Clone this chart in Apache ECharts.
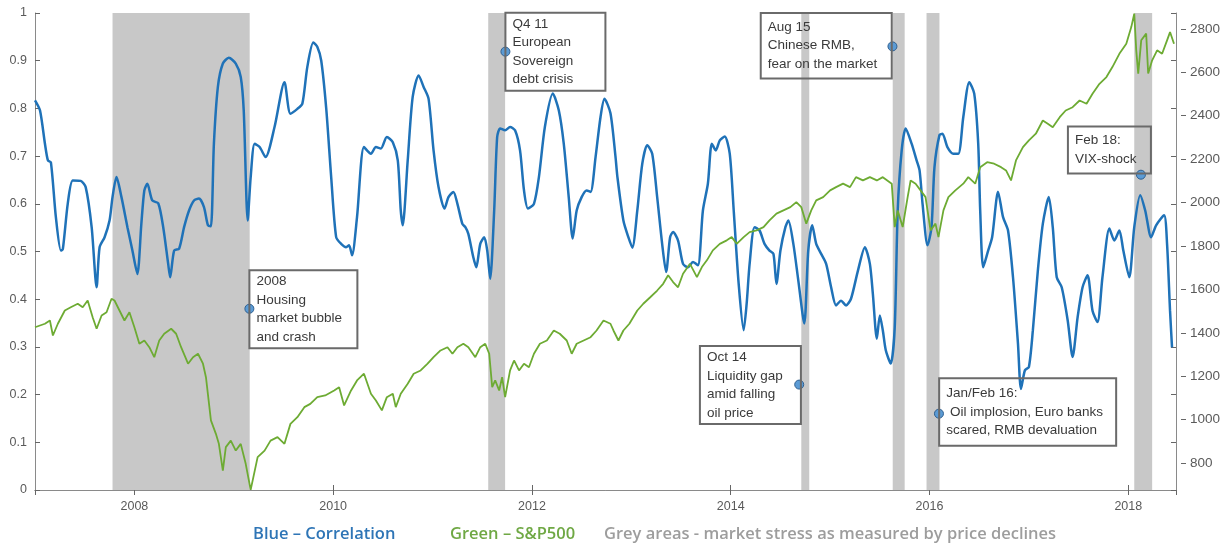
<!DOCTYPE html>
<html><head><meta charset="utf-8">
<script src="https://cdn.jsdelivr.net/npm/echarts@6/dist/echarts.min.js"></script>
<style>html,body{margin:0;padding:0;background:#fff}#c{width:1231px;height:548px}</style>
</head><body><div id="c"></div>
<script>
// ---- data ----
const corrYears = [2007.00,2007.05,2007.10,2007.13,2007.16,2007.21,2007.26,2007.28,2007.33,2007.38,2007.46,2007.51,2007.57,2007.62,2007.65,2007.70,2007.75,2007.78,2007.82,2007.87,2007.93,2007.98,2008.03,2008.07,2008.10,2008.13,2008.18,2008.24,2008.29,2008.34,2008.36,2008.40,2008.45,2008.50,2008.55,2008.60,2008.65,2008.70,2008.74,2008.77,2008.80,2008.84,2008.89,2008.95,2009.02,2009.07,2009.10,2009.14,2009.17,2009.21,2009.26,2009.32,2009.41,2009.51,2009.57,2009.64,2009.69,2009.74,2009.80,2009.84,2009.88,2009.93,2009.98,2010.03,2010.08,2010.13,2010.16,2010.19,2010.24,2010.31,2010.38,2010.43,2010.48,2010.54,2010.60,2010.65,2010.68,2010.70,2010.75,2010.80,2010.86,2010.91,2010.96,2011.01,2011.06,2011.12,2011.16,2011.21,2011.25,2011.30,2011.33,2011.36,2011.41,2011.44,2011.48,2011.52,2011.55,2011.58,2011.62,2011.65,2011.68,2011.73,2011.78,2011.83,2011.88,2011.92,2011.96,2012.02,2012.07,2012.13,2012.21,2012.27,2012.32,2012.37,2012.41,2012.45,2012.50,2012.55,2012.59,2012.64,2012.69,2012.73,2012.79,2012.84,2012.86,2012.92,2012.97,2013.01,2013.06,2013.11,2013.16,2013.21,2013.26,2013.31,2013.35,2013.39,2013.42,2013.47,2013.52,2013.57,2013.62,2013.67,2013.72,2013.77,2013.81,2013.85,2013.89,2013.94,2013.99,2014.03,2014.08,2014.13,2014.16,2014.19,2014.24,2014.29,2014.34,2014.39,2014.43,2014.46,2014.50,2014.55,2014.58,2014.63,2014.68,2014.74,2014.78,2014.82,2014.86,2014.91,2014.96,2015.01,2015.06,2015.11,2015.16,2015.21,2015.28,2015.35,2015.40,2015.43,2015.47,2015.50,2015.53,2015.56,2015.61,2015.65,2015.68,2015.72,2015.76,2015.82,2015.87,2015.90,2015.93,2015.98,2016.02,2016.05,2016.10,2016.13,2016.18,2016.24,2016.29,2016.34,2016.40,2016.45,2016.49,2016.51,2016.54,2016.59,2016.63,2016.69,2016.74,2016.79,2016.84,2016.89,2016.92,2016.96,2017.00,2017.04,2017.09,2017.14,2017.20,2017.24,2017.28,2017.33,2017.39,2017.44,2017.49,2017.54,2017.59,2017.64,2017.69,2017.74,2017.81,2017.86,2017.91,2017.95,2018.01,2018.06,2018.12,2018.17,2018.23,2018.28,2018.36,2018.39,2018.42,2018.44];
const corrValues = [0.817,0.796,0.726,0.691,0.687,0.572,0.502,0.505,0.601,0.649,0.648,0.635,0.551,0.425,0.509,0.530,0.565,0.614,0.656,0.614,0.551,0.502,0.453,0.558,0.628,0.642,0.607,0.601,0.551,0.474,0.446,0.502,0.506,0.551,0.586,0.607,0.611,0.593,0.555,0.553,0.726,0.845,0.894,0.906,0.894,0.866,0.796,0.565,0.656,0.726,0.719,0.698,0.761,0.855,0.789,0.799,0.810,0.887,0.938,0.929,0.900,0.800,0.656,0.530,0.516,0.509,0.513,0.492,0.572,0.719,0.705,0.719,0.716,0.740,0.729,0.691,0.586,0.555,0.691,0.824,0.869,0.845,0.820,0.712,0.635,0.590,0.614,0.625,0.600,0.558,0.551,0.537,0.488,0.467,0.516,0.530,0.502,0.443,0.586,0.740,0.758,0.754,0.761,0.754,0.712,0.628,0.590,0.600,0.656,0.761,0.831,0.796,0.726,0.614,0.527,0.586,0.614,0.628,0.625,0.698,0.782,0.820,0.790,0.700,0.656,0.565,0.530,0.508,0.586,0.684,0.723,0.705,0.614,0.516,0.457,0.530,0.541,0.523,0.474,0.467,0.478,0.471,0.586,0.642,0.726,0.712,0.733,0.741,0.705,0.586,0.432,0.335,0.390,0.474,0.551,0.544,0.516,0.502,0.495,0.432,0.502,0.551,0.565,0.516,0.439,0.349,0.502,0.555,0.516,0.495,0.474,0.425,0.387,0.397,0.387,0.401,0.460,0.509,0.474,0.411,0.317,0.366,0.335,0.293,0.265,0.341,0.586,0.712,0.758,0.726,0.691,0.670,0.600,0.513,0.551,0.677,0.744,0.747,0.719,0.705,0.705,0.782,0.855,0.831,0.726,0.586,0.467,0.502,0.530,0.625,0.572,0.544,0.446,0.307,0.212,0.251,0.258,0.335,0.460,0.558,0.614,0.551,0.446,0.425,0.356,0.279,0.362,0.425,0.450,0.376,0.352,0.446,0.548,0.523,0.544,0.502,0.446,0.551,0.618,0.586,0.530,0.555,0.576,0.516,0.376,0.299];

const spxYears = [2007.00,2007.10,2007.15,2007.18,2007.23,2007.30,2007.36,2007.43,2007.48,2007.53,2007.58,2007.62,2007.67,2007.72,2007.77,2007.80,2007.85,2007.90,2007.95,2008.00,2008.05,2008.10,2008.15,2008.20,2008.25,2008.30,2008.37,2008.42,2008.47,2008.54,2008.59,2008.64,2008.69,2008.72,2008.77,2008.82,2008.85,2008.89,2008.92,2008.97,2009.02,2009.07,2009.12,2009.17,2009.24,2009.31,2009.37,2009.44,2009.51,2009.57,2009.64,2009.71,2009.77,2009.84,2009.92,2010.01,2010.06,2010.11,2010.18,2010.24,2010.31,2010.38,2010.43,2010.49,2010.54,2010.60,2010.63,2010.68,2010.75,2010.81,2010.88,2010.95,2011.01,2011.08,2011.15,2011.20,2011.25,2011.31,2011.36,2011.43,2011.48,2011.53,2011.57,2011.60,2011.63,2011.67,2011.70,2011.73,2011.78,2011.82,2011.87,2011.92,2011.97,2012.02,2012.08,2012.15,2012.22,2012.28,2012.35,2012.40,2012.45,2012.52,2012.59,2012.65,2012.72,2012.79,2012.82,2012.87,2012.92,2012.98,2013.06,2013.12,2013.19,2013.26,2013.32,2013.37,2013.42,2013.47,2013.52,2013.59,2013.66,2013.71,2013.76,2013.82,2013.89,2013.96,2014.01,2014.06,2014.13,2014.19,2014.26,2014.33,2014.39,2014.46,2014.53,2014.60,2014.66,2014.71,2014.76,2014.81,2014.86,2014.93,2015.00,2015.06,2015.13,2015.20,2015.26,2015.33,2015.40,2015.47,2015.53,2015.62,2015.65,2015.68,2015.73,2015.78,2015.81,2015.86,2015.91,2015.96,2016.01,2016.06,2016.09,2016.14,2016.19,2016.26,2016.34,2016.39,2016.46,2016.51,2016.58,2016.65,2016.72,2016.77,2016.82,2016.87,2016.94,2017.00,2017.07,2017.14,2017.19,2017.24,2017.31,2017.37,2017.44,2017.51,2017.58,2017.64,2017.71,2017.78,2017.84,2017.91,2017.98,2018.03,2018.06,2018.08,2018.10,2018.13,2018.18,2018.20,2018.24,2018.29,2018.34,2018.39,2018.42,2018.46];
const spxValues = [1426,1442,1457,1388,1442,1503,1518,1534,1518,1549,1472,1419,1480,1495,1557,1549,1503,1457,1495,1426,1350,1365,1334,1288,1365,1396,1419,1396,1334,1258,1288,1304,1258,1196,997,935,889,766,874,904,858,889,797,677,828,858,904,920,889,981,1012,1058,1073,1104,1112,1135,1150,1066,1135,1181,1212,1120,1089,1043,1104,1120,1058,1120,1166,1212,1227,1258,1288,1319,1334,1304,1334,1350,1334,1288,1334,1350,1304,1150,1181,1135,1196,1104,1227,1273,1227,1258,1242,1304,1350,1365,1411,1396,1365,1304,1350,1365,1380,1411,1457,1442,1411,1365,1411,1442,1503,1534,1564,1595,1626,1665,1634,1610,1672,1718,1657,1703,1734,1780,1810,1826,1841,1810,1841,1864,1872,1887,1918,1949,1964,1979,2002,1979,1903,1964,2010,2025,2056,2071,2087,2071,2117,2102,2117,2102,2117,2087,1887,1964,1887,2025,2102,2087,2056,2025,1872,1903,1841,1964,2025,2056,2087,2117,2087,2163,2186,2179,2163,2148,2102,2194,2255,2286,2317,2378,2363,2347,2393,2424,2439,2470,2455,2501,2547,2578,2624,2685,2731,2808,2870,2701,2594,2747,2778,2594,2655,2701,2685,2747,2785,2731];

const stressStart = [2007.78, 2011.56, 2014.71, 2015.63, 2015.97, 2018.06];
const stressEnd   = [2009.16, 2011.73, 2014.79, 2015.75, 2016.10, 2018.24];

const noteYears  = [2009.157, 2011.733, 2015.627, 2014.689, 2016.095, 2018.127];
const noteValues = [0.380, 0.919, 0.930, 0.221, 0.160, 0.661];
const noteTexts = [
  '2008\nHousing\nmarket bubble\nand crash',
  'Q4 11\nEuropean\nSovereign\ndebt crisis',
  'Aug 15\nChinese RMB,\nfear on the market',
  'Oct 14\nLiquidity gap\namid falling\noil price',
  'Jan/Feb 16:\n Oil implosion, Euro banks\nscared, RMB devaluation',
  'Feb 18:\nVIX-shock'
];
const legendTexts = ['Blue \u2013 Correlation', 'Green \u2013 S&P500', 'Grey areas - market stress as measured by price declines'];

// ---- styles / layout (not data) ----
const notePos   = [[5,-33.5],[5,-34],[-126.7,-28.5],[-94.3,-33.5],[5.2,-30.5],[-68,-43.3]];
const noteWidth = [94, 86, 117, 87, 163, 69];
const notePad   = [[2,7],[2,7],[5,7],[2,7],[6,7],[5,7]];
const legendColors = ['#2e75b6', '#6fa844', '#9d9d9d'];
const legendLeft = [253, 450, 604];

const axisCol = '#8a8a8a';
const fontFam = '"Liberation Sans", Arial, sans-serif';

const chart = echarts.init(document.getElementById('c'), null, {renderer:'canvas'});
chart.setOption({
  animation: false,
  backgroundColor: '#fff',
  grid: {left:35, right:55, top:13, bottom:58},
  xAxis: [
    {type:'value', min:2007, max:2018.48, splitNumber:6, position:'bottom',
     axisLine:{show:true, lineStyle:{color:axisCol}},
     axisTick:{show:true, inside:true, length:5, lineStyle:{color:'#666'}},
     axisLabel:{showMinLabel:false, showMaxLabel:false, margin:10, formatter:v=>String(v),
       color:'#5a5a5a', fontSize:12.5, fontFamily:fontFam},
     splitLine:{show:false}},
    {type:'value', min:2007, max:2018.48, splitNumber:6, position:'top',
     axisLine:{show:true, lineStyle:{color:axisCol}},
     axisTick:{show:true, inside:true, length:5, lineStyle:{color:'#666'}},
     axisLabel:{show:false}, splitLine:{show:false}}
  ],
  yAxis: [
    {type:'value', min:0, max:1, interval:0.1, position:'left',
     axisLine:{show:true, lineStyle:{color:axisCol}},
     axisTick:{show:true, inside:true, length:5, lineStyle:{color:'#666'}},
     axisLabel:{margin:8, color:'#5a5a5a', fontSize:12.5, fontFamily:fontFam}, splitLine:{show:false}},
    {type:'value', min:676.53, max:2872.87, splitNumber:11, position:'right', offset:5,
     axisLine:{show:false},
     axisTick:{show:true, inside:false, length:5, lineStyle:{color:'#666'}},
     axisLabel:{showMinLabel:false, showMaxLabel:false, margin:9, formatter:v=>String(v),
       color:'#5a5a5a', fontSize:13.5, fontFamily:fontFam},
     splitLine:{show:false}},
    {type:'value', min:0, max:1, interval:0.1, position:'right', offset:0,
     axisLine:{show:true, lineStyle:{color:axisCol}},
     axisTick:{show:true, inside:true, length:5, lineStyle:{color:'#666'}},
     axisLabel:{show:false}, splitLine:{show:false}}
  ],
  series: [
    {type:'line', name:'Correlation', xAxisIndex:0, yAxisIndex:0,
     data: corrYears.map((x,i)=>[x, corrValues[i]]),
     showSymbol:false, smooth:0.25, z:3,
     lineStyle:{color:'#1f72b8', width:2.5}, itemStyle:{color:'#1f72b8'},
     markArea:{silent:true, itemStyle:{color:'#c8c8c8', opacity:1}, label:{show:false},
       data: stressStart.map((s,i)=>[{xAxis:s},{xAxis:stressEnd[i]}])},
     markPoint:{silent:true, symbol:'circle', symbolSize:9,
       itemStyle:{color:'#5b9bd5', borderColor:'#2f5f8f', borderWidth:1},
       data: noteYears.map((x,i)=>({
         coord:[x, noteValues[i]],
         label:{show:true, position:notePos[i], width:noteWidth[i], padding:notePad[i],
           formatter:()=>noteTexts[i], align:'left', verticalAlign:'top',
           color:'#3a3a3a', fontSize:13.5, lineHeight:18.5, fontFamily:fontFam,
           borderColor:'#6a6a6a', borderWidth:1, backgroundColor:'transparent'}
       }))}
    },
    {type:'line', name:'S&P500', xAxisIndex:0, yAxisIndex:1,
     data: spxYears.map((x,i)=>[x, spxValues[i]]),
     showSymbol:false, z:4,
     lineStyle:{color:'#6dab33', width:1.8}, itemStyle:{color:'#6dab33'}}
  ],
  graphic: legendTexts.map((t,i)=>({
    type:'text', left:legendLeft[i], top:526,
    style:{text:t, fill:legendColors[i], font:'600 16.5px "Open Sans", sans-serif'}
  }))
});
</script></body></html>
